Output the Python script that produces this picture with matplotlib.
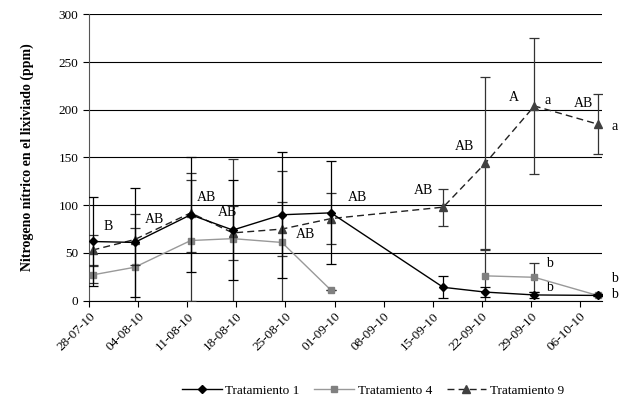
import numpy as np
import pandas as pd
import matplotlib
matplotlib.use('Agg')
import matplotlib.pyplot as plt
import matplotlib.dates as mdates
from matplotlib.lines import Line2D

plt.rcParams['font.family'] = ['Liberation Serif', 'DejaVu Serif']

# sampling dates and mean nitrate values (ppm) with their error bars
fechas = ['28-07-10', '03-08-10', '11-08-10', '17-08-10', '24-08-10',
          '31-08-10', '16-09-10', '22-09-10', '29-09-10', '08-10-10']
trat1 = [62, 61, 90, 74, 90, 92, 14, 9, 6, 5.5]
trat1_err = [47, 57, 60, 52, 66, 54, 11.5, 5, 3, 1]
trat4 = [27, 35, 63, 65, 61, 11, np.nan, 26, 24.5, 5.5]
trat4_err = [9, 41, 63, 83, 75, 0, np.nan, 28, 15, 1]
trat9 = [53, 64, 92, 71, 75, 86, 98, 144, 204, 185]
trat9_err = [16, 27, 41.5, 28, 28, 27, 19.5, 90.5, 71, 31.5]

# significance letters: (text, day after first sampling, y)
letras = [('B', 2.8, 78), ('AB', 9.4, 85), ('AB', 16.8, 108), ('AB', 19.7, 92),
          ('AB', 30.8, 69), ('AB', 38.3, 108), ('AB', 47.7, 115), ('AB', 53.5, 161),
          ('A', 60.5, 213), ('a', 65.4, 210), ('AB', 70.5, 207), ('a', 74.9, 182),
          ('b', 65.6, 39), ('b', 65.6, 14), ('b', 74.9, 23.5), ('b', 74.9, 6)]

x = mdates.date2num(pd.to_datetime(fechas, format='%d-%m-%y')) + 0.5
inicio = mdates.date2num(pd.Timestamp('2010-07-28'))

fig = plt.figure(figsize=(6.25, 4.03), dpi=100)
ax = fig.add_axes([0.1424, 0.2539, 0.8204, 0.7106])

estilos = {
    'Tratamiento 1': dict(color='black', ls='-', marker='D', ms=4.5, mfc='black', mec='black'),
    'Tratamiento 4': dict(color='#999999', ls='-', marker='s', ms=5, mfc='#808080', mec='#808080'),
    'Tratamiento 9': dict(color='#222222', ls=(0, (5, 3)), marker='^', ms=5.5, mfc='#404040', mec='#404040'),
}

ax.errorbar(x, trat4, yerr=trat4_err, ecolor='#333333', elinewidth=0.9,
            capsize=3.5, capthick=0.9, lw=1.0, zorder=3, **estilos['Tratamiento 4'])
ax.errorbar(x, trat9, yerr=trat9_err, ecolor='#333333', elinewidth=0.9,
            capsize=3.5, capthick=0.9, lw=1.0, zorder=4, **estilos['Tratamiento 9'])
ax.errorbar(x, trat1, yerr=trat1_err, ecolor='black', elinewidth=0.9,
            capsize=3.5, capthick=0.9, lw=1.0, zorder=5, **estilos['Tratamiento 1'])

for txt, d, yv in letras:
    ax.text(inicio + d, yv, txt, ha='center', va='center', fontsize=10, clip_on=False)

ax.set_ylim(0, 300)
ax.set_yticks(np.arange(0, 301, 50))
ax.set_xlim(inicio, inicio + 73.1)
ticks = mdates.date2num(pd.date_range('2010-07-28', '2010-10-06', freq='7D'))
ax.set_xticks(ticks)
ax.xaxis.set_major_formatter(mdates.DateFormatter('%d-%m-%y'))
plt.setp(ax.get_xticklabels(), rotation=45, ha='right', rotation_mode='anchor')
ax.tick_params(axis='both', labelsize=9.5, direction='out', length=4, width=0.8)
ax.tick_params(axis='x', pad=3)

ax.yaxis.grid(True, color='black', lw=0.8)
ax.set_axisbelow(True)
for s in ['top', 'right']:
    ax.spines[s].set_visible(False)
ax.spines['left'].set_color('#555555')
ax.spines['bottom'].set_color('black')

ax.set_ylabel('Nitrogeno nítrico en el lixiviado (ppm)', fontsize=10, fontweight='bold', labelpad=18)

handles = [Line2D([], [], lw=1.0, **estilos[k]) for k in estilos]
fig.legend(handles, list(estilos), loc='center',
           bbox_to_anchor=(0.597, 0.03), ncol=3, frameon=False, fontsize=9.5,
           handlelength=3.0, columnspacing=1.1, handletextpad=0.3)

fig.savefig('out.png', dpi=100)
